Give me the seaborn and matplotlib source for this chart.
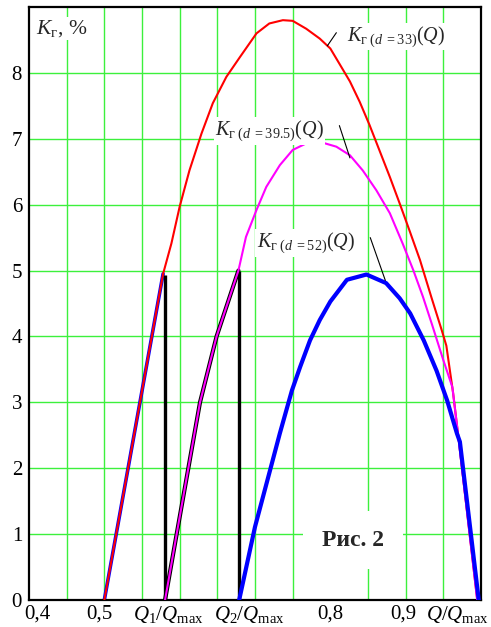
import matplotlib
matplotlib.use("Agg")
import numpy as np
import pandas as pd
import seaborn as sns
import matplotlib.pyplot as plt

# curve K_g(d=33)(Q)
q_d33 = [0.500, 0.578, 0.589, 0.600, 0.613, 0.629, 0.644, 0.662, 0.680, 0.702, 0.719,
         0.737, 0.750, 0.768, 0.786, 0.800, 0.812, 0.826, 0.839, 0.852, 0.865, 0.879,
         0.892, 0.905, 0.919, 0.934, 0.948, 0.954, 0.963, 0.970, 0.995]
k_d33 = [0.00, 4.95, 5.41, 5.97, 6.52, 7.08, 7.54, 7.94, 8.24, 8.60, 8.75,
         8.80, 8.79, 8.67, 8.52, 8.37, 8.14, 7.87, 7.56, 7.21, 6.83, 6.42,
         6.02, 5.61, 5.16, 4.60, 4.09, 3.86, 3.14, 2.47, 0.00]

# curve K_g(d=39.5)(Q)
q_d395 = [0.5806, 0.596, 0.6115, 0.627, 0.649, 0.678, 0.688, 0.702, 0.715, 0.733, 0.750,
          0.768, 0.790, 0.808, 0.826, 0.843, 0.861, 0.879, 0.896, 0.910, 0.923, 0.935,
          0.950, 0.962, 0.970, 0.995]
k_d395 = [0.00, 1.00, 2.00, 3.00, 4.00, 5.00, 5.51, 5.92, 6.27, 6.60, 6.83,
          6.93, 6.94, 6.88, 6.75, 6.52, 6.22, 5.87, 5.41, 5.01, 4.60, 4.18,
          3.64, 3.23, 2.47, 0.00]

# curve K_g(d=52)(Q)
q_d52 = [0.679, 0.700, 0.720, 0.733, 0.749, 0.760, 0.773, 0.786, 0.800, 0.822, 0.848,
         0.874, 0.892, 0.906, 0.924, 0.941, 0.955, 0.968, 0.972, 0.997]
k_d52 = [0.00, 1.11, 1.97, 2.53, 3.18, 3.54, 3.94, 4.25, 4.53, 4.86, 4.94,
         4.81, 4.58, 4.35, 3.94, 3.48, 3.03, 2.53, 2.40, 0.00]

# switching points Q1, Q2
q_switch = [0.5806, 0.679]
k_switch = [4.93, 5.00]

x_tick_pos = [0.411, 0.494, 0.585, 0.692, 0.800, 0.897, 0.969]
x_tick_labels = ["0,4", "0,5", r"$Q_1/Q_{\mathrm{max}}$", r"$Q_2/Q_{\mathrm{max}}$",
                 "0,8", "0,9", r"$Q/Q_{\mathrm{max}}$"]
y_ticks = [0, 1, 2, 3, 4, 5, 6, 7, 8]

curve_labels = [r"$K_{\mathrm{г}\ (d\ {=}33)}(Q)$",
                r"$K_{\mathrm{г}\ (d\ {=}39.5)}(Q)$",
                r"$K_{\mathrm{г}\ (d\ {=}52)}(Q)$"]
label_xy = [(0.822, 8.55), (0.647, 7.12), (0.702, 5.42)]
leaders = [((0.796, 0.808), (8.41, 8.61)),
           ((0.812, 0.826), (7.20, 6.71)),
           ((0.853, 0.873), (5.50, 4.85))]

sns.set_theme(style="white")
plt.rcParams["font.family"] = ["Liberation Serif", "DejaVu Serif"]
plt.rcParams["mathtext.fontset"] = "custom"
plt.rcParams["mathtext.rm"] = "Liberation Serif"
plt.rcParams["mathtext.it"] = "Liberation Serif:italic"
plt.rcParams["mathtext.bf"] = "Liberation Serif:bold"

fig = plt.figure(figsize=(4.91, 6.27), dpi=100)
ax = fig.add_axes([29 / 491, 27 / 627, 452 / 491, 593 / 627])

grid_green = "#3cf03c"
ax.set_xlim(0.4, 1.0)
ax.set_ylim(0, 9)
ax.set_xticks(np.arange(0.45, 0.99, 0.05), minor=True)
ax.set_xticks(x_tick_pos, x_tick_labels)
ax.set_yticks(y_ticks, [str(v) for v in y_ticks])
ax.grid(which="minor", axis="x", color=grid_green, lw=1.0)
ax.grid(which="major", axis="y", color=grid_green, lw=1.0)
ax.set_axisbelow(True)
ax.tick_params(which="both", length=0, labelsize=15, colors="black")
ax.tick_params(axis="x", pad=3)
ax.tick_params(axis="y", pad=5)
for s in ax.spines.values():
    s.set_color("black")
    s.set_linewidth(1.6)

# composite pieces under the curves
sns.lineplot(x=q_d33[:2], y=k_d33[:2], ax=ax, color="blue", lw=2.6, sort=False, estimator=None, zorder=2)
sns.lineplot(x=q_d395[:6], y=k_d395[:6], ax=ax, color="black", lw=3.0, sort=False, estimator=None, zorder=2)
ax.vlines(q_switch, 0, k_switch, colors="black", lw=2.4, zorder=3)

# main curves
sns.lineplot(x=q_d33, y=k_d33, ax=ax, color="red", lw=1.5, sort=False, estimator=None, zorder=3)
sns.lineplot(x=q_d395, y=k_d395, ax=ax, color="magenta", lw=1.5, sort=False, estimator=None, zorder=3)
sns.lineplot(x=q_d52, y=k_d52, ax=ax, color="blue", lw=3.0, sort=False, estimator=None, zorder=4)

for txt, (lx, ly) in zip(curve_labels, label_xy):
    ax.text(lx, ly, txt, fontsize=14.5, ha="left", va="center", zorder=5,
            bbox=dict(facecolor="white", edgecolor="none", pad=1))
for xs, ys in leaders:
    ax.plot(xs, ys, color="black", lw=0.8, zorder=5)

ax.text(0.409, 8.67, r"$K_{\mathrm{г}}$, %", fontsize=15.5, ha="left", va="center", zorder=5,
        bbox=dict(facecolor="white", edgecolor="none", pad=1))
ax.text(0.830, 0.91, "Рис. 2", fontsize=17, fontweight="bold", ha="center", va="center", zorder=5,
        bbox=dict(boxstyle="square,pad=0.8", facecolor="white", edgecolor="none"))

ax.set_xlabel("")
ax.set_ylabel("")
fig.savefig("out.png", dpi=100)
